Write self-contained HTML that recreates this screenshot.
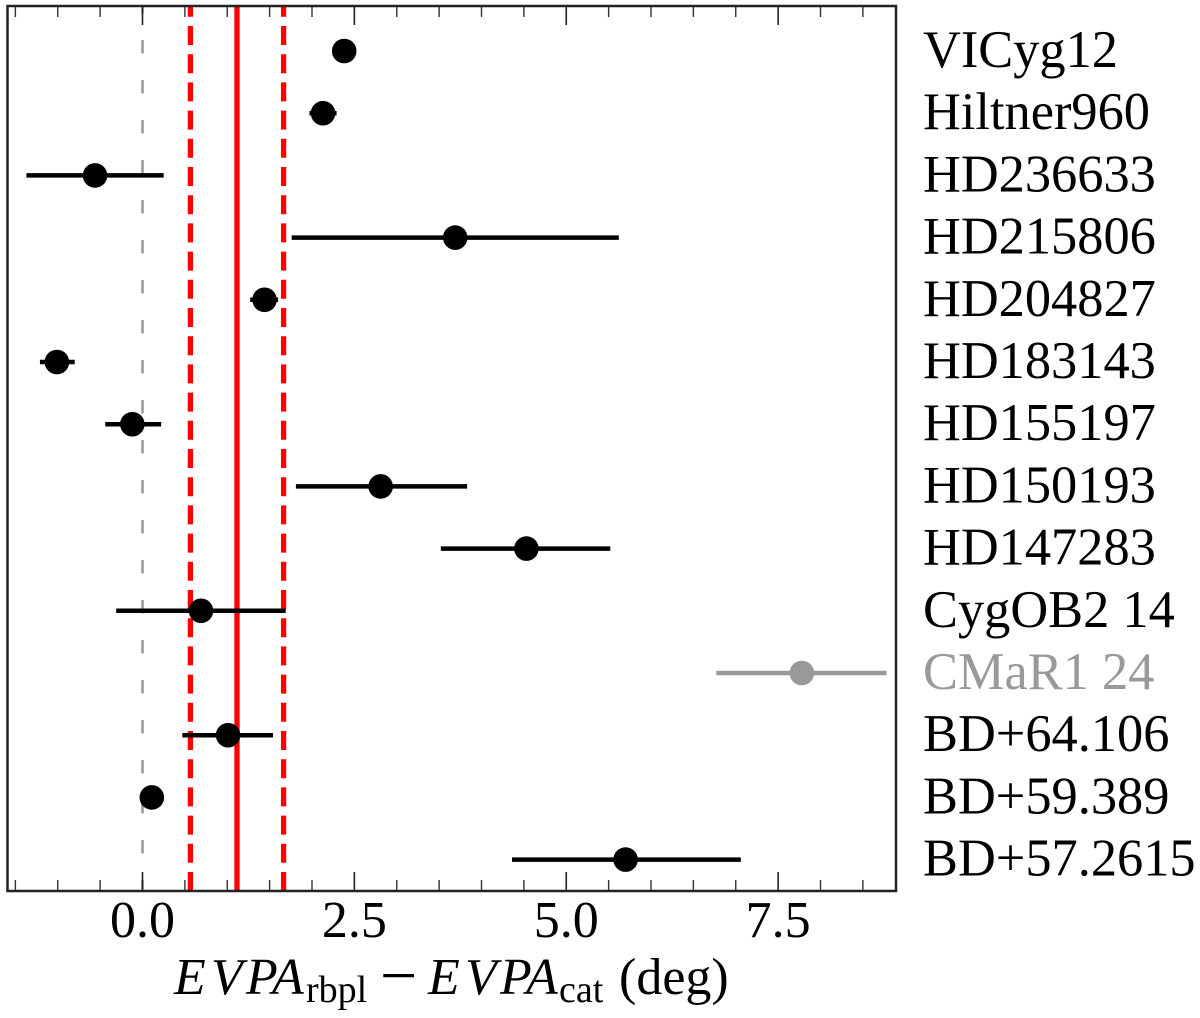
<!DOCTYPE html>
<html>
<head>
<meta charset="utf-8">
<title>EVPA offsets</title>
<style>
html,body{margin:0;padding:0;background:#fff;width:1200px;height:1018px;overflow:hidden}
svg{display:block;font-family:"Liberation Serif",serif}
</style>
</head>
<body>
<svg id="chart" width="1200" height="1018" viewBox="0 0 1200 1018" xmlns="http://www.w3.org/2000/svg">
  <rect width="1200" height="1018" fill="#fff"/>
  <g id="refs"></g>
  <g id="ticks"></g>
  <g id="marks"></g>
  <rect x="7.5" y="6" width="888.5" height="885" fill="none" stroke="#222" stroke-width="2.5"/>
  <g id="ticklabels"></g>
  <g id="names"></g>
  <g fill="#000">
    <text x="174" y="994" font-size="52" font-style="italic">E</text>
    <text x="211" y="994" font-size="52" font-style="italic">V</text>
    <text x="246" y="994" font-size="52" font-style="italic">P</text>
    <text x="272" y="994" font-size="52" font-style="italic">A</text>
    <text x="306" y="1002" font-size="38">rbpl</text>
    <text x="380" y="997.5" font-size="66">−</text>
    <text x="428" y="994" font-size="52" font-style="italic">E</text>
    <text x="465" y="994" font-size="52" font-style="italic">V</text>
    <text x="500" y="994" font-size="52" font-style="italic">P</text>
    <text x="526" y="994" font-size="52" font-style="italic">A</text>
    <text x="559" y="1002" font-size="38">cat</text>
    <text x="619" y="994" font-size="52">(deg)</text>
  </g>
</svg>
<script>
const sources = ["VICyg12","Hiltner960","HD236633","HD215806","HD204827","HD183143","HD155197","HD150193","HD147283","CygOB2 14","CMaR1 24","BD+64.106","BD+59.389","BD+57.2615"];
const offsets = [2.38,2.13,-0.56,3.69,1.44,-1.01,-0.12,2.81,4.53,0.69,7.78,1.01,0.11,5.70];
const errLow = [2.38,1.97,-1.37,1.76,1.27,-1.21,-0.44,1.81,3.52,-0.31,6.77,0.47,0.11,4.36];
const errHigh = [2.38,2.29,0.25,5.62,1.60,-0.80,0.22,3.83,5.52,1.69,8.78,1.54,0.11,7.06];
const excluded = ["CMaR1 24"];
const meanOffset = 1.115;
const meanLow = 0.565;
const meanHigh = 1.665;
const zeroLine = 0;
const majorTicks = [0,2.5,5,7.5];
const majorTickLabels = ["0.0","2.5","5.0","7.5"];
const minorTicks = [-1.5,-1,-0.5,0.5,1,1.5,2,3,3.5,4,4.5,5.5,6,6.5,7,8,8.5];

const NS = "http://www.w3.org/2000/svg";
const xScale = v => 142.5 + v * 84.75;
const yScale = i => 51 + i * 62.2;
const TOP = 6, BOTTOM = 891;

function add(parent, tag, attrs) {
  const el = document.createElementNS(NS, tag);
  for (const k in attrs) el.setAttribute(k, attrs[k]);
  parent.appendChild(el);
  return el;
}
const refs = document.getElementById("refs");
const ticks = document.getElementById("ticks");
const marks = document.getElementById("marks");
const tickLabels = document.getElementById("ticklabels");
const names = document.getElementById("names");

const zero = add(refs, "line", {x1:xScale(zeroLine),x2:xScale(zeroLine),y1:TOP,y2:BOTTOM,stroke:"#999","stroke-width":2.5,"stroke-dasharray":"13.5 26.5","stroke-dashoffset":"6"});


const mean = add(refs, "line", {x1:xScale(meanOffset),x2:xScale(meanOffset),y1:TOP,y2:BOTTOM,stroke:"#f00","stroke-width":5.3});


const low = add(refs, "line", {x1:xScale(meanLow),x2:xScale(meanLow),y1:BOTTOM,y2:TOP,stroke:"#f00","stroke-width":5.3,"stroke-dasharray":"19 9.2","stroke-dashoffset":"0"});


const high = add(refs, "line", {x1:xScale(meanHigh),x2:xScale(meanHigh),y1:BOTTOM,y2:TOP,stroke:"#f00","stroke-width":5.3,"stroke-dasharray":"19 9.2","stroke-dashoffset":"0"});



majorTicks.forEach((v, i) => {
  const x = xScale(v);
  const b = add(ticks, "line", {x1:x,x2:x,y1:BOTTOM,y2:BOTTOM-19,stroke:"#222","stroke-width":1.6});
  
  
  const t = add(ticks, "line", {x1:x,x2:x,y1:TOP,y2:TOP+19,stroke:"#222","stroke-width":1.6});
  
  
  const label = add(tickLabels, "text", {x:x,y:937,"font-size":52,"text-anchor":"middle",fill:"#000"});
  label.textContent = majorTickLabels[i];
  
  
});
minorTicks.forEach(v => {
  const x = xScale(v);
  const b = add(ticks, "line", {x1:x,x2:x,y1:BOTTOM,y2:BOTTOM-11,stroke:"#333","stroke-width":1.4});
  
  
  const t = add(ticks, "line", {x1:x,x2:x,y1:TOP,y2:TOP+11,stroke:"#333","stroke-width":1.4});
  
  
});
sources.forEach((s, i) => {
  const y = yScale(i);
  const color = excluded.includes(s) ? "#999" : "#000";
  const err = add(marks, "line", {x1:xScale(errLow[i]),x2:xScale(errHigh[i]),y1:y,y2:y,stroke:color,"stroke-width":4.5});
  
  
  const dot = add(marks, "circle", {cx:xScale(offsets[i]),cy:y,r:12.3,fill:color});
  
  
  const label = add(names, "text", {x:923,y:y+16,"font-size":52.4,fill:excluded.includes(s) ? "#999" : "#000"});
  label.textContent = s;
  
  
});
</script>
</body>
</html>
